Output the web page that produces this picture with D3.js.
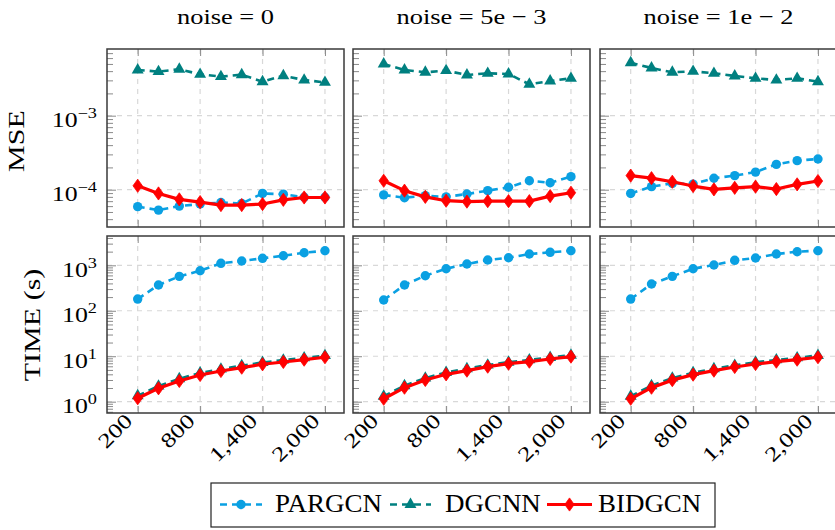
<!DOCTYPE html>
<html><head><meta charset="utf-8">
<script src="https://cdn.jsdelivr.net/npm/d3@7"></script>
<style>
body{margin:0;background:#fff}
svg{display:block}
text{font-family:"Liberation Serif","DejaVu Serif",serif;fill:#000}
</style>
</head><body>
<svg id="c" width="835" height="530"></svg>
<script>
// ---------- data ----------
const xValues = [200,400,600,800,1000,1200,1400,1600,1800,2000];
const xTickValues = [200,800,1400,2000];
const xTickLabels = ["200","800","1,400","2,000"];
const noiseTitles = ["noise = 0","noise = 5e \u2212 3","noise = 1e \u2212 2"];
const seriesNames = ["PARGCN","DGCNN","BIDGCN"];
const yTicksMSE = [1e-4, 1e-3];
const yTicksTime = [1, 10, 100, 1000];

// MSE, one array per noise level
const msePARGCN = [
  [5.9e-5,5.3e-5,6.0e-5,6.4e-5,6.7e-5,6.5e-5,8.9e-5,8.7e-5,7.9e-5,7.9e-5],
  [8.5e-5,7.8e-5,8.3e-5,8.0e-5,8.75e-5,9.7e-5,1.08e-4,1.32e-4,1.24e-4,1.5e-4],
  [8.9e-5,1.10e-4,1.22e-4,1.19e-4,1.43e-4,1.55e-4,1.73e-4,2.2e-4,2.47e-4,2.6e-4]
];
const mseDGCNN = [
  [4.15e-3,3.94e-3,4.24e-3,3.62e-3,3.37e-3,3.58e-3,2.88e-3,3.47e-3,3.03e-3,2.82e-3],
  [5.0e-3,4.15e-3,3.86e-3,4.06e-3,3.55e-3,3.74e-3,3.66e-3,2.66e-3,2.94e-3,3.2e-3],
  [5.2e-3,4.41e-3,3.86e-3,3.98e-3,3.74e-3,3.44e-3,3.2e-3,3.03e-3,3.2e-3,2.88e-3]
];
const mseBIDGCN = [
  [1.13e-4,8.9e-5,7.4e-5,6.8e-5,6.2e-5,6.2e-5,6.4e-5,7.3e-5,7.85e-5,7.85e-5],
  [1.32e-4,9.7e-5,8.0e-5,7.1e-5,6.9e-5,7.0e-5,7.0e-5,7.0e-5,8.2e-5,9.1e-5],
  [1.55e-4,1.43e-4,1.28e-4,1.12e-4,1.01e-4,1.06e-4,1.10e-4,1.02e-4,1.18e-4,1.31e-4]
];
// TIME (s)
const timePARGCN = [
  [181,369,572,760,1107,1243,1426,1627,1893,2095],
  [173,369,590,841,1069,1309,1469,1773,1932,2095],
  [181,388,572,841,1016,1289,1448,1773,1991,2095]
];
const timeDGCNN = [
  [1.35,2.2,3.2,4.3,5.2,6.2,7.3,8.2,9.2,10.3],
  [1.32,2.25,3.3,4.4,5.3,6.4,7.4,8.3,9.4,10.5],
  [1.32,2.25,3.3,4.35,5.3,6.3,7.4,8.3,9.2,10.4]
];
const timeBIDGCN = [
  [1.19,1.97,2.85,3.86,4.73,5.6,6.65,7.47,8.4,9.5],
  [1.16,2.03,3.0,4.0,4.81,5.89,6.86,7.59,8.7,9.8],
  [1.16,2.03,2.98,3.93,4.81,5.79,6.75,7.59,8.4,9.5]
];

// ---------- styles / layout ----------
const FONT = '"Liberation Serif","DejaVu Serif",serif';
const seriesStyle = [
  {color:"#0aa0e2", dash:"7,5", width:2.6, marker:"circle"},
  {color:"#008080", dash:"7,5", width:2.6, marker:"triangle"},
  {color:"#ff0000", dash:null,  width:3.2, marker:"diamond"}
];
const SX = 1.26; // horizontal stretch to mimic the wide TeX fonts
const panelLeft = [107, 353, 600], panelW = 237;
const rows = [
  {top:49, bottom:227, lo:-4.504, hi:-2.099, ticks:yTicksMSE, label:"MSE", labelX:24, labelY:141,
   data:[msePARGCN, mseDGCNN, mseBIDGCN]},
  {top:236, bottom:413, lo:-0.249, hi:3.645, ticks:yTicksTime, label:"TIME (s)", labelX:40, labelY:325,
   data:[timePARGCN, timeDGCNN, timeBIDGCN]}
];

const svg = d3.select("#c");

function txt(parent, x, y, rot, anchor, size, sx) {
  return parent.append("text")
    .attr("transform", `translate(${x},${y}) rotate(${rot}) scale(${sx},1)`)
    .attr("font-family", FONT)
    .attr("text-anchor", anchor).attr("font-size", size);
}
function drawMarker(g, type, color, x, y) {
  if (type === "circle") {
    g.append("circle").attr("cx", x).attr("cy", y).attr("r", 4.7).attr("fill", color);
  } else if (type === "triangle") {
    g.append("path").attr("d", d3.symbol(d3.symbolTriangle, 62)())
      .attr("transform", `translate(${x},${y})`).attr("fill", color);
  } else {
    g.append("path").attr("d", "M0,-6.6L4.7,0L0,6.6L-4.7,0Z")
      .attr("transform", `translate(${x},${y})`).attr("fill", color)
      .attr("stroke", color).attr("stroke-width", 0.8);
  }
}
function supLabel(parent, x, y, v) {
  const e = Math.round(Math.log10(v));
  const t = txt(parent, x, y, 0, "end", 20.5, SX);
  t.append("tspan").text("10");
  t.append("tspan").attr("font-size", 14.5).attr("dy", -9)
    .text(e < 0 ? "\u2212" + (-e) : String(e));
}

rows.forEach((row, ri) => {
  const y = d3.scaleLog().domain([10 ** row.lo, 10 ** row.hi]).range([row.bottom, row.top]);
  const minor = [];
  for (let d = Math.floor(row.lo); d <= Math.ceil(row.hi); d++)
    for (let k = 2; k <= 9; k++) {
      const v = k * 10 ** d;
      if (Math.log10(v) > row.lo && Math.log10(v) < row.hi) minor.push(v);
    }

  panelLeft.forEach((left, ci) => {
    const x = d3.scaleLinear().domain([-95, 2183]).range([left, left + panelW]);
    const g = svg.append("g");

    // grid
    g.selectAll(".gx").data(xTickValues).join("line")
      .attr("x1", d => x(d)).attr("x2", d => x(d))
      .attr("y1", row.top).attr("y2", row.bottom)
      .attr("stroke", "#d8d8d8").attr("stroke-width", 1.2).attr("stroke-dasharray", "5,5");
    g.selectAll(".gy").data(row.ticks).join("line")
      .attr("x1", left).attr("x2", left + panelW)
      .attr("y1", d => y(d)).attr("y2", d => y(d))
      .attr("stroke", "#d8d8d8").attr("stroke-width", 1.2).attr("stroke-dasharray", "5,5");

    // ticks (inside)
    const yMinorAxis = d3.axisRight(y).tickValues(minor).tickSize(6).tickFormat("");
    const yMajorAxis = d3.axisRight(y).tickValues(row.ticks).tickSize(9).tickFormat("");
    [yMinorAxis, yMajorAxis].forEach(ax => {
      const a = g.append("g").attr("transform", `translate(${left},0)`).call(ax);
      a.select(".domain").remove();
      a.selectAll("line").attr("stroke", "#8a8a8a").attr("stroke-width", 1);
    });
    const xb = g.append("g").attr("transform", `translate(0,${row.bottom})`)
      .call(d3.axisTop(x).tickValues(xTickValues).tickSize(7).tickFormat(""));
    const xt = g.append("g").attr("transform", `translate(0,${row.top})`)
      .call(d3.axisBottom(x).tickValues(xTickValues).tickSize(7).tickFormat(""));
    [xb, xt].forEach(a => {
      a.select(".domain").remove();
      a.selectAll("line").attr("stroke", "#8a8a8a").attr("stroke-width", 1);
    });

    // series
    row.data.forEach((series, si) => {
      const st = seriesStyle[si];
      const vals = series[ci];
      const pts = xValues.map((xv, i) => [x(xv), y(vals[i])]);
      g.append("path").attr("d", d3.line()(pts)).attr("fill", "none")
        .attr("stroke", st.color).attr("stroke-width", st.width)
        .attr("stroke-dasharray", st.dash).attr("stroke-linejoin", "round");
      pts.forEach(p => drawMarker(g, st.marker, st.color, p[0], p[1]));
    });

    // border
    g.append("rect").attr("x", left).attr("y", row.top)
      .attr("width", panelW).attr("height", row.bottom - row.top)
      .attr("fill", "none").attr("stroke", "#3a3a3a").attr("stroke-width", 1.5);

    if (ci === 0) row.ticks.forEach(v => supLabel(svg, left - 10, y(v) + 11.5, v));

    if (ri === 1) xTickValues.forEach((v, i) => {
      txt(svg, x(v) - 4, row.bottom + 9, -45, "end", 20.5, SX).text(xTickLabels[i]);
    });

    if (ri === 0) txt(svg, left + panelW / 2, 24, 0, "middle", 22, 1.2).text(noiseTitles[ci]);
  });

  txt(svg, row.labelX, row.labelY, -90, "middle", 23.5, 1.28).text(row.label);
});

// ---------- legend ----------
const leg = svg.append("g");
leg.append("rect").attr("x", 211).attr("y", 483).attr("width", 504).attr("height", 44)
  .attr("fill", "#fff").attr("stroke", "#222").attr("stroke-width", 1.2);
const legendItems = [
  {x1:220, x2:262, tx:275},
  {x1:390, x2:431, tx:445},
  {x1:547, x2:592, tx:598}
];
const ly = 504.5;
seriesNames.forEach((name, i) => {
  const st = seriesStyle[i], it = legendItems[i];
  leg.append("line").attr("x1", it.x1).attr("x2", it.x2).attr("y1", ly).attr("y2", ly)
    .attr("stroke", st.color).attr("stroke-width", st.width).attr("stroke-dasharray", st.dash);
  drawMarker(leg, st.marker, st.color, (it.x1 + it.x2) / 2, ly);
  txt(leg, it.tx, 511.5, 0, "start", 24.5, 1.1).text(name);
});
</script>
</body></html>
